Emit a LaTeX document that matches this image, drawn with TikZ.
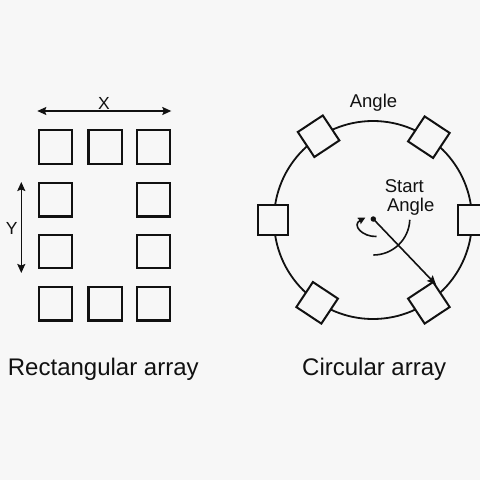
\documentclass[tikz,border=0pt]{standalone}
\usepackage{fontspec}
\setmainfont{Liberation Sans}
\usetikzlibrary{arrows.meta,calc}
\definecolor{bg}{RGB}{247,247,247}
\definecolor{ink}{RGB}{17,17,17}
\begin{document}
\begin{tikzpicture}[x=1pt,y=1pt,
  cell/.style={draw=ink, line width=2.3pt, minimum size=33.4pt, inner sep=0pt},
  pad/.style={draw=ink, fill=bg, line width=2pt, minimum size=30pt, inner sep=0pt},
  dim/.style={draw=ink, line width=1.5pt, {Stealth[length=9pt,width=8pt,inset=1.5pt]}-{Stealth[length=9pt,width=8pt,inset=1.5pt]}},
  thin/.style={draw=ink, line width=1.6pt},
  lbl/.style={inner sep=0pt, text=ink, font=\fontsize{18.5}{18.5}\selectfont},
  dimlbl/.style={inner sep=0pt, text=ink, anchor=base, font=\fontsize{17.5}{17.5}\selectfont},
  caption/.style={inner sep=0pt, text=ink, anchor=base, font=\fontsize{24}{24}\selectfont},
]
\fill[bg] (0,-480) rectangle (480,0);
\useasboundingbox (0,-480) rectangle (480,0);

% ---------- rectangular array ----------
\node[cell] (r11) at (55.5,-147) {};
\node[cell] (r12) at (105.3,-147) {};
\node[cell] (r13) at (153.5,-147) {};
\node[cell] (r21) at (55.5,-199.8) {};
\node[cell] (r23) at (153.5,-199.8) {};
\node[cell] (r31) at (55.5,-251.5) {};
\node[cell] (r33) at (153.5,-251.5) {};
\node[cell] (r41) at (55.5,-303.9) {};
\node[cell] (r42) at (105.3,-303.9) {};
\node[cell] (r43) at (153.5,-303.9) {};

\coordinate (xa) at (37.3,-111);
\coordinate (xb) at (171.3,-111);
\draw[dim] (xa) -- (xb);
\node[dimlbl] (xl) at (104,-109.5) {X};

\coordinate (ya) at (21.3,-182);
\coordinate (yb) at (21.3,-273);
\draw[dim] (ya) -- (yb);
\node[dimlbl] (yl) at (11.7,-234) {Y};

\node[caption] (capL) at (103.3,-375.7) {Rectangular array};

% ---------- circular array ----------
\node[circle, draw=ink, line width=1.8pt, minimum size=198pt, inner sep=0pt] (ring) at (373,-220) {};
\node[pad, rotate=56.5] (pTR) at (ring.56.5) {};
\node[pad, rotate=123.5] (pTL) at (ring.123.5) {};
\node[pad, rotate=236.5] (pBL) at (ring.236.5) {};
\node[pad, rotate=-56.5] (pBR) at (ring.-56.5) {};
\node[pad] (pL) at (ring.180) {};
\node[pad] (pR) at (ring.0) {};

\node[circle, fill=ink, minimum size=5.5pt, inner sep=0pt] (dot) at (373.3,-219) {};
\draw[thin, -{Stealth[length=9pt,width=8pt,inset=1.5pt]}] (dot.center) -- ($(pBR.north west)!0.3!(pBR.north)$);

\draw[thin, -{Stealth[length=7pt,width=7pt,inset=1pt]}]
  ($(dot.center)+(3.2,-17.5)$) .. controls ($(dot.center)+(-11,-18)$) and ($(dot.center)+(-22,-6)$) .. ($(dot.center)+(-8,1.3)$);
\draw[thin] ($(dot.center)+(0,-36)$) arc[start angle=-90, end angle=-2, radius=36.5];

\node[lbl, anchor=base] (angTop) at (373.5,-107.3) {Angle};
\node[lbl, anchor=base west] (startA) at (384.6,-192.7) {Start};
\node[lbl, anchor=base west] (startB) at (386.8,-211) {Angle};

\node[caption] (capR) at (374.2,-375.7) {Circular array};
\end{tikzpicture}
\end{document}
